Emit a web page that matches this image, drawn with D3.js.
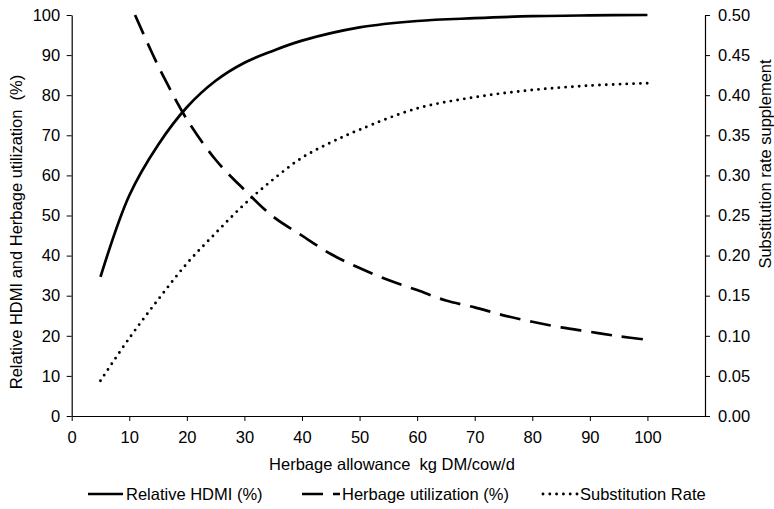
<!DOCTYPE html>
<html>
<head>
<meta charset="utf-8">
<script src="https://cdn.jsdelivr.net/npm/d3@7/dist/d3.min.js"></script>
<style>
  body { margin: 0; background: #fff; }
  svg { display: block; font-family: "Liberation Sans", Arial, sans-serif; }
  text { fill: #000; white-space: pre; }
</style>
</head>
<body>
<svg id="chart" width="774" height="509"></svg>
<script>
// ---- data ----
const xTicks = [0, 10, 20, 30, 40, 50, 60, 70, 80, 90, 100];
const leftTicks = [0, 10, 20, 30, 40, 50, 60, 70, 80, 90, 100];
const rightTicks = [0, 0.05, 0.10, 0.15, 0.20, 0.25, 0.30, 0.35, 0.40, 0.45, 0.50];

const hdmiX = [5, 10, 15, 20, 25, 30, 35, 40, 50, 60, 70, 80, 90, 100];
const hdmiY = [34.7, 55, 67.6, 77, 83.6, 88.1, 91.1, 93.6, 96.9, 98.5, 99.2, 99.7, 99.9, 100];

const utilX = [11, 14, 16, 20, 25, 30, 35, 40, 45, 50, 55, 60, 65, 70, 75, 80, 85, 90, 95, 100];
const utilY = [100, 90.4, 84.5, 74, 63.9, 56.4, 49.7, 45, 40.4, 36.9, 33.9, 31.4, 28.8, 27.1, 25.1, 23.5, 22.1, 21.0, 19.9, 19.0];

const subX = [5, 10, 15, 20, 25, 30, 35, 40, 45, 50, 60, 70, 80, 90, 100];
const subY = [0.044, 0.097, 0.145, 0.19, 0.228, 0.264, 0.295, 0.322, 0.341, 0.357, 0.3835, 0.3975, 0.4065, 0.412, 0.415];

const legendLabels = ["Relative HDMI (%)", "Herbage utilization (%)", "Substitution Rate"];

// ---- layout ----
const svg = d3.select("#chart");
const pLeft = 71.7, pRight = 705, pTop = 15, pBottom = 416;

const x = d3.scaleLinear().domain([0, 110]).range([pLeft, pRight]);
const yL = d3.scaleLinear().domain([0, 100]).range([pBottom, pTop]);
const yR = d3.scaleLinear().domain([0, 0.5]).range([pBottom, pTop]);

const fs = "16.5px";

// axes
const gx = svg.append("g").attr("transform", `translate(0,${pBottom})`)
  .call(d3.axisBottom(x).tickValues(xTicks).tickSize(5).tickPadding(10).tickSizeOuter(0).tickFormat(d3.format("d")));
const gl = svg.append("g").attr("transform", `translate(${pLeft},0)`)
  .call(d3.axisLeft(yL).tickValues(leftTicks).tickSize(5).tickPadding(6.5).tickSizeOuter(0).tickFormat(d3.format("d")));
const gr = svg.append("g").attr("transform", `translate(${pRight},0)`)
  .call(d3.axisRight(yR).tickValues(rightTicks).tickSize(5).tickPadding(8).tickSizeOuter(0).tickFormat(d3.format(".2f")));

[gx, gl, gr].forEach(g => {
  g.selectAll("text").style("font-size", fs).style("font-family", "'Liberation Sans', Arial, sans-serif").attr("fill", "#000");
  g.selectAll("line").attr("stroke", "#000").attr("stroke-width", 1);
  g.select(".domain").attr("stroke", "#000").attr("stroke-width", 1.2);
});

// lines
const styles = [
  { dash: null, cap: "butt", w: 2.7 },
  { dash: "21,10", cap: "butt", w: 2.7 },
  { dash: "0,6.8", cap: "round", w: 2.9 }
];

const curve = d3.curveCatmullRom.alpha(0.5);
const lineL = d3.line().x(d => x(d[0])).y(d => yL(d[1])).curve(curve);
const lineR = d3.line().x(d => x(d[0])).y(d => yR(d[1])).curve(curve);

const series = [
  { pts: hdmiX.map((v, i) => [v, hdmiY[i]]), gen: lineL, st: styles[0] },
  { pts: utilX.map((v, i) => [v, utilY[i]]), gen: lineL, st: styles[1] },
  { pts: subX.map((v, i) => [v, subY[i]]), gen: lineR, st: styles[2] }
];

series.forEach(s => {
  svg.append("path")
    .attr("d", s.gen(s.pts))
    .attr("fill", "none")
    .attr("stroke", "#000")
    .attr("stroke-width", s.st.w)
    .attr("stroke-linecap", s.st.cap)
    .attr("stroke-dasharray", s.st.dash);
});

// axis titles
svg.append("text")
  .attr("x", 392).attr("y", 470)
  .attr("text-anchor", "middle").style("font-size", fs)
  .text("Herbage allowance  kg DM/cow/d");

svg.append("text")
  .attr("transform", `translate(22,232) rotate(-90)`)
  .attr("text-anchor", "middle").style("font-size", fs)
  .text("Relative HDMI and Herbage utilization  (%)");

svg.append("text")
  .attr("transform", `translate(771,164) rotate(-90)`)
  .attr("text-anchor", "middle").style("font-size", fs)
  .text("Substitution rate supplement");

// legend
const legendItems = [
  { x0: 88, x1: 123, tx: 126 },
  { x0: 302, x1: 340, tx: 342 },
  { x0: 543, x1: 578, tx: 580 }
];
const ly = 494;
legendItems.forEach((it, i) => {
  svg.append("line")
    .attr("x1", it.x0).attr("x2", it.x1).attr("y1", ly).attr("y2", ly)
    .attr("stroke", "#000")
    .attr("stroke-width", styles[i].w)
    .attr("stroke-linecap", styles[i].cap)
    .attr("stroke-dasharray", styles[i].dash);
  svg.append("text")
    .attr("x", it.tx).attr("y", ly).attr("dy", "0.35em")
    .style("font-size", fs)
    .text(legendLabels[i]);
});
</script>
</body>
</html>
